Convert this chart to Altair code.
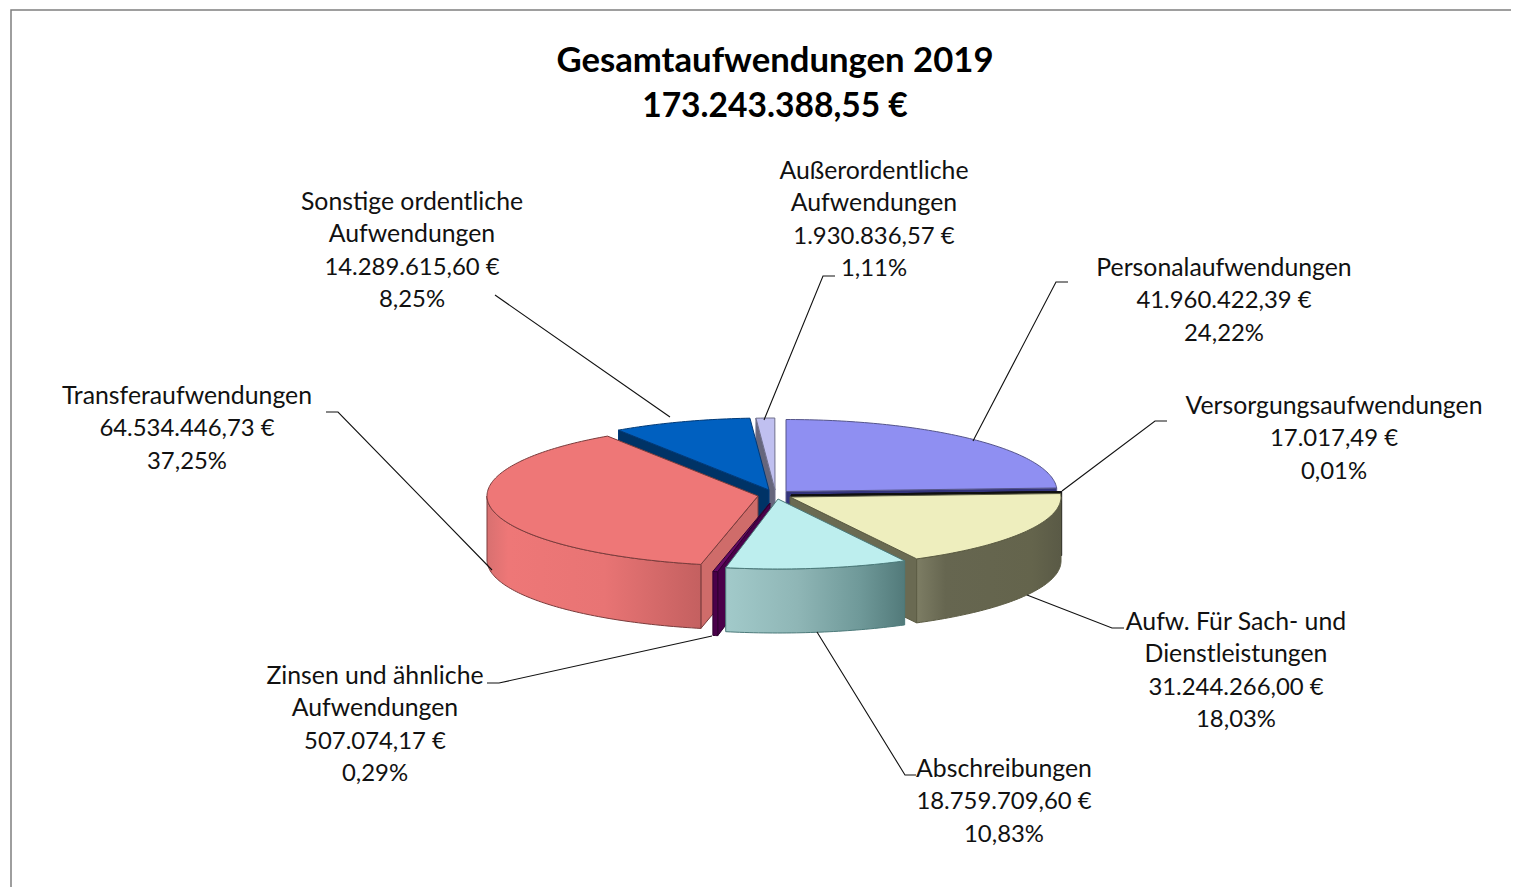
import math
import altair as alt

# --- data ---
categories = ["Personalaufwendungen", "Versorgungsaufwendungen", "Aufw. Für Sach- und Dienstleistungen",
              "Abschreibungen", "Zinsen und ähnliche Aufwendungen", "Transferaufwendungen",
              "Sonstige ordentliche Aufwendungen", "Außerordentliche Aufwendungen"]
name_lines = [["Personalaufwendungen"], ["Versorgungsaufwendungen"], ["Aufw. Für Sach- und", "Dienstleistungen"],
              ["Abschreibungen"], ["Zinsen und ähnliche", "Aufwendungen"], ["Transferaufwendungen"],
              ["Sonstige ordentliche", "Aufwendungen"], ["Außerordentliche", "Aufwendungen"]]
amounts = ["41.960.422,39 €", "17.017,49 €", "31.244.266,00 €", "18.759.709,60 €",
           "507.074,17 €", "64.534.446,73 €", "14.289.615,60 €", "1.930.836,57 €"]
percents = [24.22, 0.01, 18.03, 10.83, 0.29, 37.25, 8.25, 1.11]
title_lines = ["Gesamtaufwendungen 2019", "173.243.388,55 €"]

# --- layout / style ---
OX, OY = 8, 8
RX, RY_BACK, RY_FRONT, H = 271, 72, 70, 64
centers = [(786, 491.5), (791, 495), (790, 497), (778, 499), (770, 503), (758, 496), (769, 490), (775, 490)]
top_col = ["#8f8ff2", "#3a3a60", "#eeeebe", "#bdeeee", "#640a64", "#ee7777", "#0060c0", "#c0c0f0"]
edge_col = ["#55558a", "#111111", "#5c5c44", "#4c7a7a", "#300030", "#7a3c3c", "#003a78", "#70708c"]
face_col = ["#34347c", "#111111", "#6a6a52", "#6c9898", "#4a004a", "#cf6c6a", "#003366", "#66667c"]
wall_stops = {
    2: [("#7d7d64", 0), ("#666650", .2), ("#64644c", .8), ("#5a5a46", 1)],
    3: [("#a2caca", 0), ("#8fb6b6", .4), ("#6f9999", .75), ("#527a7a", 1)],
    4: [("#4a004a", 0), ("#4a004a", 1)],
    5: [("#d87070", 0), ("#ee7777", .1), ("#e87474", .55), ("#c46060", 1)],
}
paint_order = [7, 6, 0, 1, 5, 4, 2, 3]
FONT = "Lato"
FS_NAME, FS_NUM = 24.8, 23.9
FS_TITLE, FS_TOTAL = 34.7, 33.6

label_x = [1224, 1334, 1236, 1004, 375, 187, 412, 874]
label_y = [269, 407, 623, 770, 677, 397, 203, 172]
LINE = 32.4
leaders = [
    [(973, 441), (1056, 282), (1068, 282)],
    [(1062, 491), (1155, 421), (1167, 421)],
    [(1027, 595), (1112, 628), (1124, 628)],
    [(817, 632), (905, 775), (916, 775)],
    [(712, 636), (499, 683), (487, 683)],
    [(492, 570), (338, 412), (326, 412)],
    [(670, 417), (495, 295)],
    [(764, 420), (823, 276), (835, 276)],
]

# --- geometry helpers ---
def px(x, y):
    return [x - OX, y - OY]

def rim(c, t, dz=0):
    a = math.radians(t)
    cos_a = math.cos(a)
    ry = RY_BACK if cos_a > 0 else RY_FRONT
    return (c[0] + RX * math.sin(a), c[1] - ry * cos_a + dz)

def arc(c, t1, t2, dz=0):
    n = max(2, int(abs(t2 - t1)) + 2)
    return [rim(c, t1 + (t2 - t1) * i / (n - 1), dz) for i in range(n)]

def poly(points):
    ring = [px(*p) for p in points]
    ring.append(ring[0])
    return {"type": "Feature", "properties": {}, "geometry": {"type": "Polygon", "coordinates": [ring]}}

def lines(paths):
    return {"type": "Feature", "properties": {}, "geometry": {"type": "MultiLineString",
            "coordinates": [[px(*p) for p in path] for path in paths]}}

def project(ch):
    return ch.project(type="identity", scale=1, translate=[0, 0])

def shape(feature, fill, stroke, sw=1.0):
    return project(alt.Chart(alt.Data(values=[feature])).mark_geoshape(
        fill=fill, stroke=stroke, strokeWidth=sw))

def gradient(stops):
    return alt.Gradient(gradient="linear", x1=0, x2=1, y1=0, y2=0,
                        stops=[alt.GradientStop(color=c, offset=o) for c, o in stops])

def text_layer(rows, size, weight, color):
    return alt.Chart(alt.Data(values=rows)).mark_text(
        font=FONT, fontSize=size, fontWeight=weight, color=color, align="center", baseline="middle").encode(
        x=alt.X("x:Q", scale=None, axis=None), y=alt.Y("y:Q", scale=None, axis=None), text="t:N")

bounds = []
acc = 0.0
for p in percents:
    bounds.append((acc * 3.6, (acc + p) * 3.6))
    acc += p

layers = []
for i in paint_order:
    c = centers[i]
    t1, t2 = bounds[i]
    c_low = (c[0], c[1] + H)
    # cut face at the start of the slice (seen when it lies on the left half)
    if t1 >= 180:
        layers.append(shape(poly([c, rim(c, t1), rim(c, t1, H), c_low]), face_col[i], edge_col[i]))
    # cut face at the end of the slice (seen when it lies on the right half)
    if t2 <= 180:
        layers.append(shape(poly([c, rim(c, t2), rim(c, t2, H), c_low]), face_col[i], edge_col[i]))
    # outer wall, front half only
    w1, w2 = max(t1, 90), min(t2, 270)
    if w2 > w1 and i in wall_stops:
        pts = arc(c, w1, w2) + arc(c, w2, w1, H)
        layers.append(shape(poly(pts), gradient(wall_stops[i]), edge_col[i]))
    # top surface
    layers.append(shape(poly([c] + arc(c, t1, t2)), top_col[i], edge_col[i]))

# frame
frame = [[(11, 894), (11, 10), (1518, 10)]]
layers.append(project(alt.Chart(alt.Data(values=[lines(frame)])).mark_geoshape(
    filled=False, stroke="#7f7f7f", strokeWidth=1.5)))
# leader lines
layers.append(project(alt.Chart(alt.Data(values=[lines(leaders)])).mark_geoshape(
    filled=False, stroke="#111111", strokeWidth=1.1)))

# labels
name_rows, num_rows = [], []
for i, nl in enumerate(name_lines):
    for j, s in enumerate(nl):
        name_rows.append({"x": label_x[i] - OX, "y": label_y[i] + j * LINE - OY, "t": s})
    k = len(nl)
    num_rows.append({"x": label_x[i] - OX, "y": label_y[i] + k * LINE - OY, "t": amounts[i]})
    num_rows.append({"x": label_x[i] - OX, "y": label_y[i] + (k + 1) * LINE - OY,
                     "t": f"{percents[i]:.2f}".replace(".", ",") + "%"})
layers.append(text_layer(name_rows, FS_NAME, "normal", "#111111"))
layers.append(text_layer(num_rows, FS_NUM, "normal", "#111111"))
layers.append(text_layer([{"x": 775 - OX, "y": 62 - OY, "t": title_lines[0]}], FS_TITLE, "bold", "#000000"))
layers.append(text_layer([{"x": 775 - OX, "y": 107 - OY, "t": title_lines[1]}], FS_TOTAL, "bold", "#000000"))

chart = alt.layer(*layers).properties(
    width=1503, height=879, padding=0,
    autosize=alt.AutoSizeParams(type="none"),
    background="white",
).configure_view(stroke=None)

chart.save("out.html", embed_options={"renderer": "svg", "actions": False})
